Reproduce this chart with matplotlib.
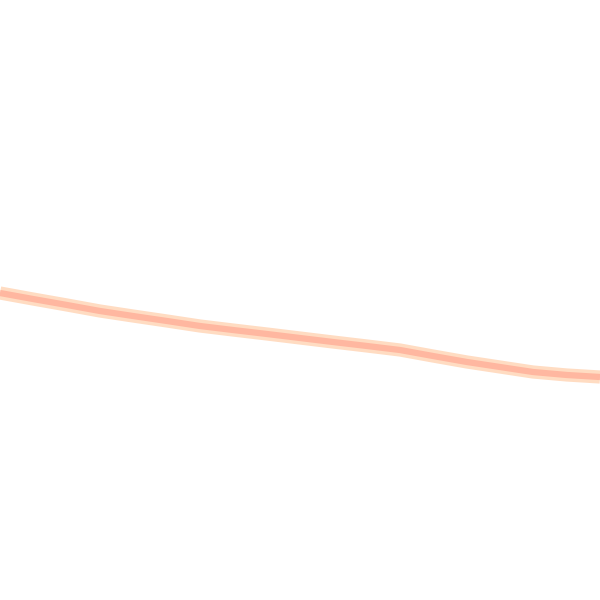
import matplotlib
matplotlib.use("Agg")
import matplotlib.pyplot as plt

# Points (pixel-like units, y grows downward)
x_vals = [0, 33, 67, 100, 133, 167, 200, 233, 267, 300, 333, 367, 400, 433, 467, 500, 533, 567, 600]
y_vals = [293, 299, 305, 311, 316, 321, 326, 330, 334, 338, 342, 346, 350, 356, 362, 367, 372, 375, 377]

fig = plt.figure(figsize=(6, 6), dpi=100)
ax = fig.add_axes([0, 0, 1, 1])

# soft halo and core of the line
ax.plot(x_vals, y_vals, color="#FFDCC2", linewidth=9.5, solid_capstyle="butt")
ax.plot(x_vals, y_vals, color="#FFB7A0", linewidth=4.5, solid_capstyle="butt")

ax.set_xlim(0, 600)
ax.set_ylim(600, 0)
ax.axis("off")

fig.savefig("out.png", dpi=100)
